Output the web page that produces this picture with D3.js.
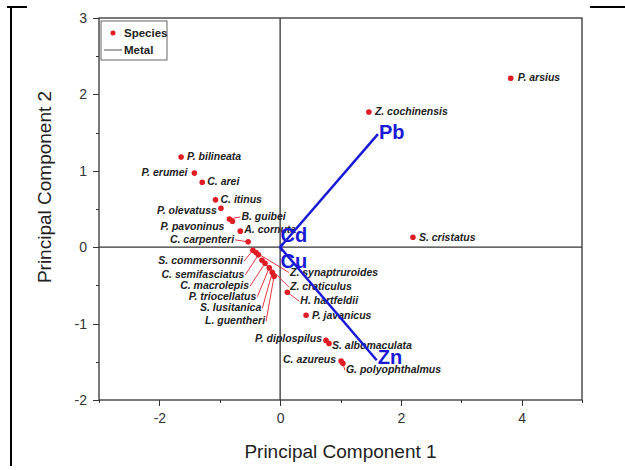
<!DOCTYPE html>
<meta charset="utf-8">
<style>
body { margin: 0; background: #fff; }
svg text { font-family: "Liberation Sans", Arial, sans-serif; }
.axis text { font-size: 14px; fill: #333; }
.axis path, .axis line { stroke: #333; shape-rendering: crispEdges; }
.sp text { font-size: 10.5px; font-weight: bold; font-style: italic; fill: #222; }
.metal text { font-size: 20px; font-weight: bold; fill: #1a1ad6; }
</style>
<svg id="chart" width="625" height="470"></svg>
<script src="https://d3js.org/d3.v7.min.js"></script>
<script>

// species scores (PC1, PC2)
var species = ["P. arsius", "Z. cochinensis", "S. cristatus", "P. bilineata", "P. erumei", "C. arei",
  "C. itinus", "P. olevatuss", "B. guibei", "P. pavoninus", "A. cornuta", "C. carpenteri",
  "S. commersonnii", "C. semifasciatus", "C. macrolepis", "P. triocellatus", "S. lusitanica",
  "L. guentheri", "Z. synaptruroides", "Z. craticulus", "H. hartfeldii", "P. javanicus",
  "P. diplospilus", "S. albomaculata", "C. azureus", "G. polyophthalmus"];
var pc1 = [3.82, 1.47, 2.20, -1.64, -1.42, -1.29, -1.07, -0.98, -0.84, -0.79, -0.66, -0.53,
  -0.45, -0.36, -0.25, -0.18, -0.13, -0.10, -0.40, -0.30, 0.12, 0.43, 0.76, 0.81, 1.01, 1.04];
var pc2 = [2.21, 1.77, 0.13, 1.18, 0.97, 0.85, 0.62, 0.51, 0.37, 0.34, 0.21, 0.07,
  -0.04, -0.10, -0.21, -0.27, -0.33, -0.38, -0.07, -0.17, -0.59, -0.89, -1.22, -1.26, -1.49, -1.52];

// metal loadings
var metals = ["Pb", "Cd", "Cu", "Zn"];
var load1 = [1.62, 0.04, 0.04, 1.60];
var load2 = [1.48, 0.04, -0.05, -1.48];

var xTicks = [-2, 0, 2, 4];
var yTicks = [-2, -1, 0, 1, 2, 3];

// label placement: pixel offset from the dot, and anchor
var labelPos = [[7,3,"start"],[6,3,"start"],[6,4,"start"],[6,3,"start"],[-7,3,"end"],[5,3,"start"],
  [5,3,"start"],[-4,6,"end"],[12,1,"start"],[-8,9,"end"],[4,2,"start"],[-14,1,"end"],
  [-10,14,"end"],[-14,23,"end"],[-16,26,"end"],[-13,32,"end"],[-11,39,"end"],
  [-9,48,"end"],[34,23,"start"],[28,30,"start"],[13,12,"start"],[6,4,"start"],
  [-4,2,"end"],[3,6,"start"],[-5,2,"end"],[3,10,"start"]];
var metalLabel = [[1,5],[-2,-2],[-2,17],[1,4]];

var svg = d3.select("#chart");
var mLeft = 99, mRight = 582, mTop = 18, mBottom = 400;

var x = d3.scaleLinear().domain([-3, 5]).range([mLeft, mRight]);
var y = d3.scaleLinear().domain([-2, 3]).range([mBottom, mTop]);
var fmt = function(d) { return String(d); };

// page frame bits
svg.append("path").attr("d", "M7,7H27M11,7V466").attr("stroke", "#000").attr("stroke-width", 2).attr("fill", "none");
svg.append("path").attr("d", "M590,7H625").attr("stroke", "#000").attr("stroke-width", 2);

// axes with minor ticks
svg.append("g").attr("class", "axis")
  .attr("transform", "translate(0," + mBottom + ")")
  .call(d3.axisBottom(x).tickValues(d3.range(-3, 5.1, 1)).tickSize(3).tickFormat(""))
  .select(".domain").remove();
svg.append("g").attr("class", "axis")
  .attr("transform", "translate(0," + mBottom + ")")
  .call(d3.axisBottom(x).tickValues(xTicks).tickSize(6).tickPadding(7).tickFormat(fmt))
  .select(".domain").remove();
svg.append("g").attr("class", "axis")
  .attr("transform", "translate(" + mLeft + ",0)")
  .call(d3.axisLeft(y).tickValues(d3.range(-2, 3.01, 0.5)).tickSize(3).tickFormat(""))
  .select(".domain").remove();
svg.append("g").attr("class", "axis")
  .attr("transform", "translate(" + mLeft + ",0)")
  .call(d3.axisLeft(y).tickValues(yTicks).tickSize(6).tickPadding(6).tickFormat(fmt))
  .select(".domain").remove();

svg.append("rect").attr("x", mLeft).attr("y", mTop).attr("width", mRight - mLeft).attr("height", mBottom - mTop)
  .attr("fill", "none").attr("stroke", "#333").attr("stroke-width", 1.3);

// zero lines
svg.append("line").attr("x1", x(0)).attr("x2", x(0)).attr("y1", mTop).attr("y2", mBottom)
  .attr("stroke", "#333").attr("stroke-width", 1.3);
svg.append("line").attr("x1", mLeft).attr("x2", mRight).attr("y1", y(0)).attr("y2", y(0))
  .attr("stroke", "#333").attr("stroke-width", 1.3);

svg.append("text").attr("x", (mLeft + mRight) / 2).attr("y", 458).attr("text-anchor", "middle")
  .attr("font-size", 19).attr("fill", "#222").text("Principal Component 1");
svg.append("text").attr("transform", "translate(51,187) rotate(-90)")
  .attr("text-anchor", "middle").attr("font-size", 19).attr("fill", "#222").text("Principal Component 2");

// species
var sp = svg.append("g").attr("class", "sp");
species.forEach(function(name, i) {
  var px = x(pc1[i]), py = y(pc2[i]);
  var lp = labelPos[i];
  var lx = px + lp[0], ly = py + lp[1];
  if (Math.abs(lp[0]) > 9 || Math.abs(lp[1]) > 9) {
    sp.append("line").attr("x1", px).attr("y1", py).attr("x2", lx + (lp[2] == "end" ? 1 : -1)).attr("y2", ly - 3)
      .attr("stroke", "#e0202a").attr("stroke-width", 0.9);
  }
  sp.append("circle").attr("cx", px).attr("cy", py).attr("r", 2.8).attr("fill", "#e01b24");
  sp.append("text").attr("x", lx).attr("y", ly).attr("text-anchor", lp[2]).text(name);
});

// metal vectors
var mg = svg.append("g").attr("class", "metal");
metals.forEach(function(m, i) {
  mg.append("line").attr("x1", x(0)).attr("y1", y(0)).attr("x2", x(load1[i])).attr("y2", y(load2[i]))
    .attr("stroke", "#1a1ad6").attr("stroke-width", 2.5);
  mg.append("text").attr("x", x(load1[i]) + metalLabel[i][0]).attr("y", y(load2[i]) + metalLabel[i][1]).text(m);
});

// legend
var lg = svg.append("g");
lg.append("rect").attr("x", 101).attr("y", 21).attr("width", 66).attr("height", 39)
  .attr("fill", "#fff").attr("stroke", "#666").attr("stroke-width", 1);
lg.append("circle").attr("cx", 113).attr("cy", 33).attr("r", 2.5).attr("fill", "#e01b24");
lg.append("text").attr("x", 124).attr("y", 37).attr("font-size", 11.5).attr("font-weight", "bold").attr("fill", "#222").text("Species");
lg.append("line").attr("x1", 104).attr("x2", 122).attr("y1", 50).attr("y2", 50).attr("stroke", "#555").attr("stroke-width", 1);
lg.append("text").attr("x", 124).attr("y", 54).attr("font-size", 11.5).attr("font-weight", "bold").attr("fill", "#222").text("Metal");
</script>
